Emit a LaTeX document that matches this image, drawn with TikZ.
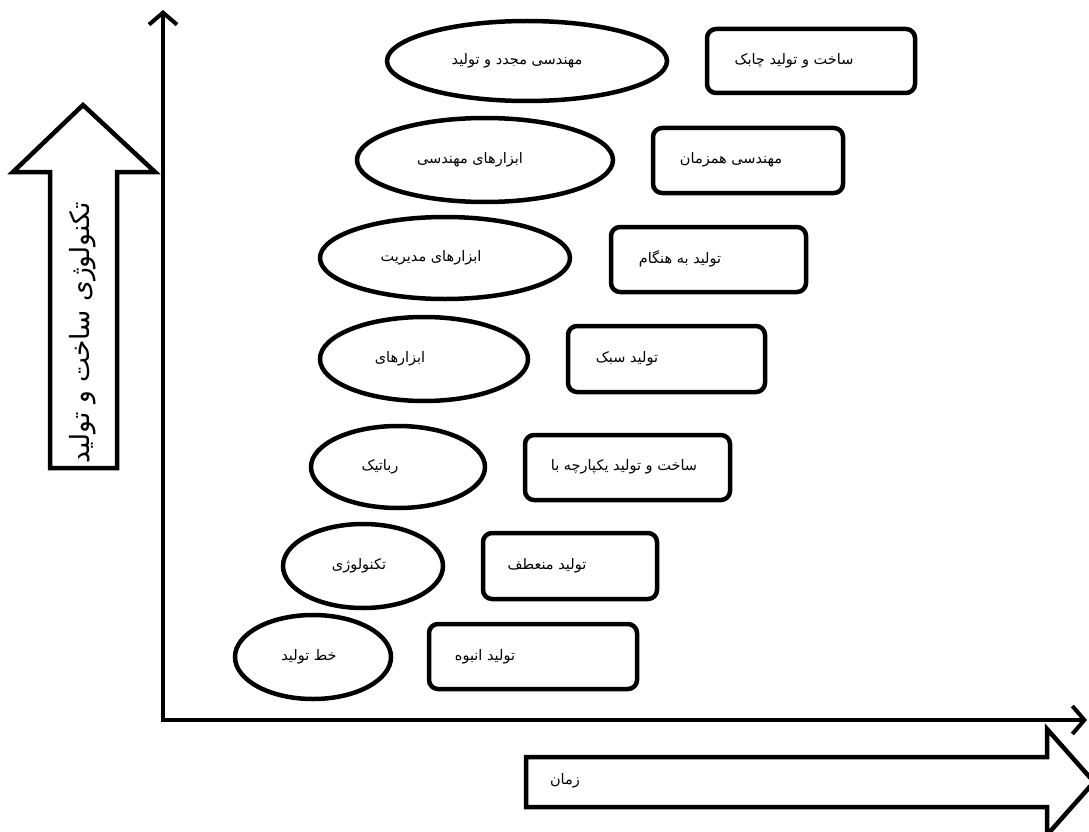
\documentclass[tikz,border=0pt]{standalone}
\usepackage{fontspec}
\newfontfamily\farsi[Script=Arabic]{DejaVu Sans}
\TeXXeTstate=1
\usepackage{tikz}
\usetikzlibrary{arrows.meta}

\tikzset{
    shp/.style={line width=4.5pt},
    stagebox/.style={shp, rounded corners=9pt},
    blockarrow/.style={shp, miter limit=10},
    lbl/.style={font=\farsi\fontsize{14.5}{17}\selectfont, inner sep=0pt},
    axisline/.style={line width=4pt, line cap=round,
        {Straight Barb[length=12pt,width=28pt]}-{Straight Barb[length=12pt,width=28pt]}},
}

\begin{document}
\begin{tikzpicture}[x=1pt, y=-1pt]

\useasboundingbox (0,0) rectangle (1089,832);

% axes
    \draw[axisline] (163,10) -- (163,720) -- (1087,720);

% block arrows
    \draw[blockarrow] (50,468) -- (50,172) -- (13,172) -- (83,105) -- (155,172)
        -- (117,172) -- (117,468) -- cycle;
    \draw[blockarrow] (526,757) -- (1047,757) -- (1047,729) -- (1094,782)
        -- (1047,835) -- (1047,807) -- (526,807) -- cycle;

    \node[font=\farsi\fontsize{26.5}{30}\selectfont, rotate=90, inner sep=0pt] (tech) at (83,333)
        {\beginR تکنولوژی ساخت و تولید\endR};
    \node[lbl] (time) at (565,781) {\beginR زمان\endR};

% ellipses
    \draw[shp] (527,61) ellipse [x radius=140, y radius=40]; % 1
    \draw[shp] (485,160) ellipse [x radius=128, y radius=42]; % 2
    \draw[shp] (445,258) ellipse [x radius=125, y radius=41]; % 3
    \draw[shp] (424,359) ellipse [x radius=104, y radius=42]; % 4
    \draw[shp] (398,467) ellipse [x radius=87, y radius=41]; % 5
    \draw[shp] (363,566) ellipse [x radius=80, y radius=42]; % 6
    \draw[shp] (313,657) ellipse [x radius=78, y radius=42]; % 7

    \node[lbl] (e1) at (517,61) {\beginR مهندسی مجدد و تولید\endR};
    \node[lbl] (e2) at (470,160) {\beginR ابزارهای مهندسی\endR};
    \node[lbl] (e3) at (431,258) {\beginR ابزارهای مدیریت\endR};
    \node[lbl] (e4) at (400,359) {\beginR ابزارهای\endR};
    \node[lbl] (e5) at (380,467) {\beginR رباتیک\endR};
    \node[lbl] (e6) at (359,566) {\beginR تکنولوژی\endR};
    \node[lbl] (e7) at (309,657) {\beginR خط تولید\endR};

% boxes
    \draw[stagebox] (707,29) rectangle (915,93); % 1
    \draw[stagebox] (653,128) rectangle (843,193); % 2
    \draw[stagebox] (611,227) rectangle (806,292); % 3
    \draw[stagebox] (568,326) rectangle (765,392); % 4
    \draw[stagebox] (525,435) rectangle (730,500); % 5
    \draw[stagebox] (483,533) rectangle (657,599); % 6
    \draw[stagebox] (429,624) rectangle (637,689); % 7

    \node[lbl] (b1) at (794,61) {\beginR ساخت و تولید چابک\endR};
    \node[lbl] (b2) at (731,160) {\beginR مهندسی همزمان\endR};
    \node[lbl] (b3) at (680,259) {\beginR تولید به هنگام\endR};
    \node[lbl] (b4) at (627,359) {\beginR تولید سبک\endR};
    \node[lbl] (b5) at (624,467) {\beginR ساخت و تولید یکپارچه با\endR};
    \node[lbl] (b6) at (547,566) {\beginR تولید منعطف\endR};
    \node[lbl] (b7) at (485,657) {\beginR تولید انبوه\endR};

\end{tikzpicture}
\end{document}
